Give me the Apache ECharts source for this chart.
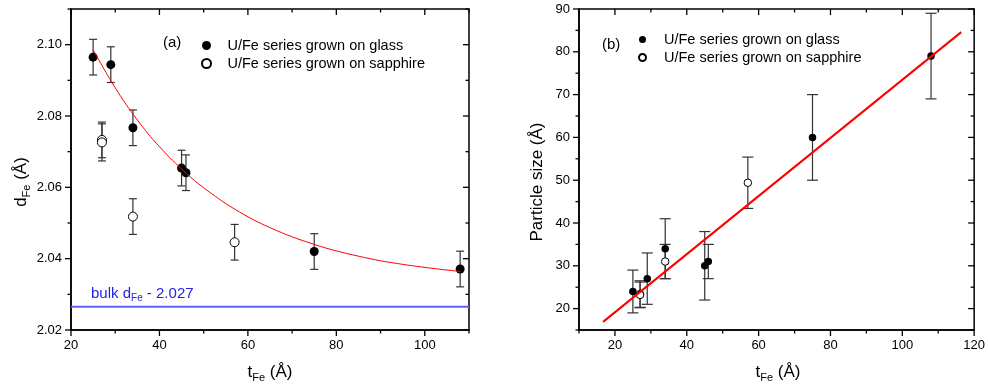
<!DOCTYPE html>
<html><head><meta charset="utf-8">
<script src="https://cdn.jsdelivr.net/npm/echarts@6/dist/echarts.min.js"></script>
<style>html,body{margin:0;padding:0;background:#fff}#c{width:988px;height:388px}</style>
</head><body><div id="c"></div>
<script>
// ---- Panel (a): d_Fe vs t_Fe ----
const aGlassX = [25, 29, 34, 45, 46, 75, 108];
const aGlassY = [2.0965, 2.0944, 2.0767, 2.0654, 2.0641, 2.0420, 2.0371];
const aGlassErr = [0.005, 0.005, 0.005, 0.005, 0.005, 0.005, 0.005];
const aSapX = [27, 27, 34, 57];
const aSapY = [2.0733, 2.0726, 2.0518, 2.0446];
const aSapErr = [0.005, 0.0052, 0.005, 0.005];
const aFitX = [25, 30, 35, 40, 46, 50, 57, 65, 75, 85, 95, 108];
const aFitY = [2.0986, 2.0879, 2.0789, 2.0714, 2.0640, 2.0599, 2.0539, 2.0487, 2.0440, 2.0407, 2.0384, 2.0364];
const aBulk = 2.0265;
const aXMajor = [20, 40, 60, 80, 100];
const aXMinor = [30, 50, 70, 90, 110];
const aYMajor = [2.02, 2.04, 2.06, 2.08, 2.10];
const aYMinor = [2.03, 2.05, 2.07, 2.09, 2.11];
// ---- Panel (b): particle size vs t_Fe ----
const bGlassX = [25, 29, 34, 45, 46, 75, 108];
const bGlassY = [24, 27, 34, 30, 31, 60, 79];
const bGlassErr = [5, 6, 7, 8, 4, 10, 10];
const bSapX = [27, 27, 34, 57];
const bSapY = [23.4, 23.2, 31, 49.4];
const bSapErr = [3.1, 3.0, 4, 6];
const bFitX = [16.7, 116.4];
const bFitY = [16.9, 84.6];
const bXMajor = [20, 40, 60, 80, 100, 120];
const bXMinor = [10, 30, 50, 70, 90, 110];
const bYMajor = [20, 30, 40, 50, 60, 70, 80, 90];
const bYMinor = [15, 25, 35, 45, 55, 65, 75, 85];
const nameGlass = 'U/Fe series grown on glass';
const nameSap = 'U/Fe series grown on sapphire';

const F = '"Liberation Sans", Arial, sans-serif';
const zip = (xs, ys) => xs.map((x, i) => [x, ys[i]]);
const errData = (xs, ys, es) => xs.map((x, i) => [x, ys[i] - es[i], ys[i] + es[i]]);
const MAJ = 6, MIN = 3.5;
// tick rows: [kind (0 = x, 1 = y), value, length]
const tickRows = (xMaj, xMin, yMaj, yMin) => [].concat(
  xMaj.map(v => [0, v, MAJ]), xMin.map(v => [0, v, MIN]),
  yMaj.map(v => [1, v, MAJ]), yMin.map(v => [1, v, MIN]));

function tickRender(params, api) {
  const cs = params.coordSys;
  const kind = api.value(0), v = api.value(1), len = api.value(2);
  const st = {stroke: '#000', lineWidth: 1.3};
  const p = api.coord([v, v]);
  const l = cs.x, r = cs.x + cs.width, t = cs.y, b = cs.y + cs.height;
  if (kind === 0) {
    return {type: 'group', children: [
      {type: 'line', shape: {x1: p[0], y1: b, x2: p[0], y2: b + len}, style: st},
      {type: 'line', shape: {x1: p[0], y1: t, x2: p[0], y2: t + len}, style: st}
    ]};
  }
  return {type: 'group', children: [
    {type: 'line', shape: {x1: l - len, y1: p[1], x2: l, y2: p[1]}, style: st},
    {type: 'line', shape: {x1: r - len, y1: p[1], x2: r, y2: p[1]}, style: st}
  ]};
}

function errRender(cap) {
  return function (params, api) {
    const x = api.value(0), lo = api.value(1), hi = api.value(2);
    const p1 = api.coord([x, hi]), p2 = api.coord([x, lo]);
    const st = {stroke: '#333', lineWidth: 1.2};
    return {type: 'group', children: [
      {type: 'line', shape: {x1: p1[0], y1: p1[1], x2: p2[0], y2: p2[1]}, style: st},
      {type: 'line', shape: {x1: p1[0] - cap, y1: p1[1], x2: p1[0] + cap, y2: p1[1]}, style: st},
      {type: 'line', shape: {x1: p2[0] - cap, y1: p2[1], x2: p2[0] + cap, y2: p2[1]}, style: st}
    ]};
  };
}

function axis(grid, min, max, major, isX, fmt) {
  return {gridIndex: grid, type: 'value', min: min, max: max, position: isX ? 'bottom' : 'left',
    splitLine: {show: false},
    axisLine: {show: true, onZero: false, lineStyle: {color: '#000', width: 1.5}},
    axisTick: {show: false},
    axisLabel: {show: true, customValues: major, formatter: fmt, fontFamily: F, fontSize: 13, color: '#000', margin: 9}};
}

const legText = {fontFamily: F, fontSize: 14.5, color: '#000'};
const titleRich = {
  a: {fontFamily: F, fontSize: 17, fill: '#000'},
  s: {fontFamily: F, fontSize: 11, fill: '#000', padding: [12, 0, 0, 0]}
};

const option = {
  animation: false,
  backgroundColor: '#fff',
  grid: [
    {left: 71, right: 519, top: 9, bottom: 58, show: true, borderColor: '#000', borderWidth: 1.5},
    {left: 579, right: 11, top: 9, bottom: 58, show: true, borderColor: '#000', borderWidth: 1.5}
  ],
  xAxis: [axis(0, 20, 110, aXMajor, true, v => String(v)), axis(1, 10, 120, bXMajor, true, v => String(v))],
  yAxis: [axis(0, 2.02, 2.11, aYMajor, false, v => v.toFixed(2)), axis(1, 15, 90, bYMajor, false, v => String(v))],
  legend: [
    {orient: 'vertical', left: 196, top: 33, itemWidth: 32, itemHeight: 9, itemGap: 3,
      textStyle: legText, data: [nameGlass, nameSap], selectedMode: false},
    {orient: 'vertical', left: 633, top: 27, itemWidth: 33, itemHeight: 7, itemGap: 3,
      textStyle: legText, data: [nameGlass, nameSap], selectedMode: false}
  ],
  graphic: [
    {type: 'text', left: 163, top: 35, style: {text: '(a)', font: '15px ' + F, fill: '#000'}},
    {type: 'text', left: 602, top: 37, style: {text: '(b)', font: '15px ' + F, fill: '#000'}},
    {type: 'text', x: 91, y: 284, style: {text: '{a|bulk d}{s|Fe}{a| - 2.027}',
      rich: {a: {fontFamily: F, fontSize: 15, fill: '#2323e6'},
             s: {fontFamily: F, fontSize: 10, fill: '#2323e6', padding: [9, 0, 0, 0]}}}},
    {type: 'text', x: 270, y: 372, style: {text: '{a|t}{s|Fe}{a| (Å)}', rich: titleRich, align: 'center', verticalAlign: 'middle'}},
    {type: 'text', x: 778, y: 372, style: {text: '{a|t}{s|Fe}{a| (Å)}', rich: titleRich, align: 'center', verticalAlign: 'middle'}},
    {type: 'text', x: 21, y: 182, rotation: Math.PI / 2, style: {text: '{a|d}{s|Fe}{a| (Å)}', rich: titleRich, align: 'center', verticalAlign: 'middle'}},
    {type: 'text', x: 537, y: 182, rotation: Math.PI / 2, style: {text: 'Particle size (Å)', font: '17px ' + F, fill: '#000', align: 'center', verticalAlign: 'middle'}}
  ],
  series: [
    // panel a
    {type: 'custom', xAxisIndex: 0, yAxisIndex: 0, renderItem: tickRender, clip: false,
      data: tickRows(aXMajor, aXMinor, aYMajor, aYMinor), z: 5, silent: true},
    {type: 'line', xAxisIndex: 0, yAxisIndex: 0, data: [[20, aBulk], [110, aBulk]], showSymbol: false, symbol: 'none',
      lineStyle: {color: '#5f5ff5', width: 2}, z: 1, silent: true},
    {type: 'custom', xAxisIndex: 0, yAxisIndex: 0, renderItem: errRender(4), encode: {x: 0, y: [1, 2]},
      data: errData(aGlassX, aGlassY, aGlassErr), z: 2, silent: true},
    {type: 'custom', xAxisIndex: 0, yAxisIndex: 0, renderItem: errRender(4), encode: {x: 0, y: [1, 2]},
      data: errData(aSapX, aSapY, aSapErr), z: 2, silent: true},
    {type: 'scatter', name: nameGlass, xAxisIndex: 0, yAxisIndex: 0, data: zip(aGlassX, aGlassY), symbolSize: 9,
      itemStyle: {color: '#000', opacity: 1}, z: 3},
    {type: 'scatter', name: nameSap, xAxisIndex: 0, yAxisIndex: 0, data: zip(aSapX, aSapY), symbolSize: 9,
      itemStyle: {color: '#fff', borderColor: '#000', borderWidth: 1, opacity: 1}, z: 3},
    {type: 'line', xAxisIndex: 0, yAxisIndex: 0, data: zip(aFitX, aFitY), smooth: 0.4, showSymbol: false, symbol: 'none',
      lineStyle: {color: '#ff0000', width: 1}, z: 4, silent: true},
    // panel b
    {type: 'custom', xAxisIndex: 1, yAxisIndex: 1, renderItem: tickRender, clip: false,
      data: tickRows(bXMajor, bXMinor, bYMajor, bYMinor), z: 5, silent: true},
    {type: 'custom', xAxisIndex: 1, yAxisIndex: 1, renderItem: errRender(5.5), encode: {x: 0, y: [1, 2]},
      data: errData(bGlassX, bGlassY, bGlassErr), z: 2, silent: true},
    {type: 'custom', xAxisIndex: 1, yAxisIndex: 1, renderItem: errRender(5.5), encode: {x: 0, y: [1, 2]},
      data: errData(bSapX, bSapY, bSapErr), z: 2, silent: true},
    {type: 'scatter', name: nameGlass, xAxisIndex: 1, yAxisIndex: 1, data: zip(bGlassX, bGlassY), symbolSize: 7.5,
      itemStyle: {color: '#000', opacity: 1}, z: 3},
    {type: 'scatter', name: nameSap, xAxisIndex: 1, yAxisIndex: 1, data: zip(bSapX, bSapY), symbolSize: 7.5,
      itemStyle: {color: '#fff', borderColor: '#000', borderWidth: 1, opacity: 1}, z: 3},
    {type: 'line', xAxisIndex: 1, yAxisIndex: 1, data: zip(bFitX, bFitY), showSymbol: false, symbol: 'none',
      lineStyle: {color: '#ff0000', width: 2}, z: 4, silent: true}
  ]
};
const chart = echarts.init(document.getElementById('c'), null, {renderer: 'canvas'});
chart.setOption(option);
</script>
</body></html>
